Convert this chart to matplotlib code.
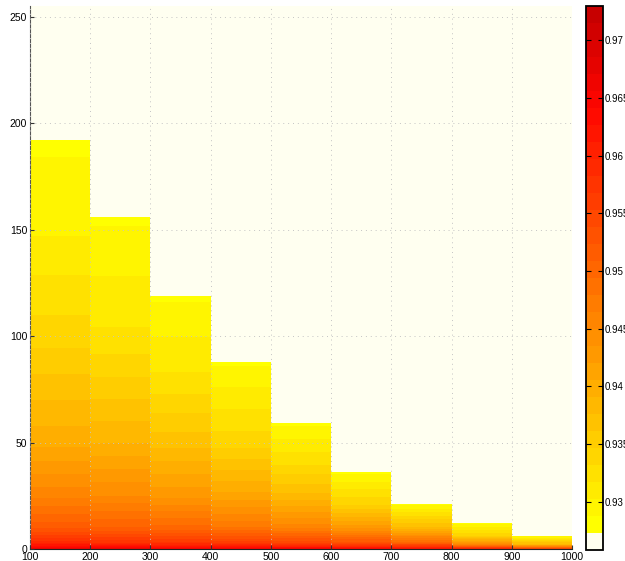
import matplotlib
matplotlib.use('Agg')
import matplotlib.pyplot as plt
import numpy as np
from matplotlib.colors import LinearSegmentedColormap, ListedColormap, BoundaryNorm
from matplotlib.cm import ScalarMappable

plt.rcParams['font.family'] = ['Liberation Sans', 'DejaVu Sans']

# column edges along x and the height of each filled column
col_left = [100, 200, 300, 400, 500, 600, 700, 800, 900]
col_width = 100
col_height = [192, 156, 119, 88, 59, 36, 21, 12, 6]

# value profiles, one per column (y position, value)
prof_y = [
    [0, 3, 10, 25, 50, 100, 150, 192],
    [0, 3, 10, 25, 50, 100, 156],
    [0, 3, 10, 25, 50, 80, 119],
    [0, 3, 10, 25, 50, 88],
    [0, 3, 10, 25, 40, 59],
    [0, 3, 10, 20, 36],
    [0, 3, 10, 21],
    [0, 2, 6, 12],
    [0, 2, 6],
]
prof_v = [
    [0.967, 0.959, 0.952, 0.946, 0.940, 0.934, 0.930, 0.9285],
    [0.967, 0.958, 0.951, 0.945, 0.939, 0.932, 0.9285],
    [0.966, 0.957, 0.950, 0.943, 0.937, 0.932, 0.9285],
    [0.966, 0.956, 0.948, 0.941, 0.934, 0.9285],
    [0.965, 0.955, 0.946, 0.938, 0.933, 0.9285],
    [0.964, 0.953, 0.943, 0.935, 0.9285],
    [0.963, 0.950, 0.938, 0.9285],
    [0.961, 0.946, 0.935, 0.9285],
    [0.957, 0.939, 0.9285],
]

cbar_ticks = [0.93, 0.935, 0.94, 0.945, 0.95, 0.955, 0.96, 0.965, 0.97]
vmin, vmax, nbins = 0.92583, 0.97295, 32

ivory = (1.0, 1.0, 0.94)

# yellow -> red -> dark red, with an ivory bottom bin
base = LinearSegmentedColormap.from_list(
    'yr', [(0.0, (1, 1, 0)), (0.82, (1, 0.02, 0)), (1.0, (0.78, 0, 0))])
colors = [ivory] + [base(i / (nbins - 2)) for i in range(nbins - 1)]
cmap = ListedColormap(colors)
levels = np.linspace(vmin, vmax, nbins + 1)
norm = BoundaryNorm(levels, cmap.N)

fig = plt.figure(figsize=(6.25, 5.61), dpi=100)
ax = fig.add_axes([30 / 625, 12 / 561, 542 / 625, 543 / 561])
ax.set_facecolor(ivory)

for x0, yy, vv in zip(col_left, prof_y, prof_v):
    X, Y = np.meshgrid([x0, x0 + col_width], yy)
    Z = np.column_stack([vv, vv])
    ax.contourf(X, Y, Z, levels=levels, cmap=cmap, norm=norm)

ax.set_xlim(100, 1000)
ax.set_ylim(0, 255)
ax.set_xticks(np.arange(100, 1001, 100))
ax.set_yticks(np.arange(0, 251, 50))
ax.tick_params(direction='in', length=3, labelsize=7.5, pad=2, color='#333333')
ax.grid(True, linestyle=(0, (1, 4)), color='#c4c4c4', linewidth=0.7)
ax.set_axisbelow(False)
ax.spines['top'].set_visible(False)
ax.spines['right'].set_visible(False)
ax.spines['left'].set_color('#555555')
ax.spines['bottom'].set_color('#222222')

cax = fig.add_axes([586 / 625, 11 / 561, 17 / 625, 544 / 561])
sm = ScalarMappable(norm=norm, cmap=cmap)
cb = fig.colorbar(sm, cax=cax, ticks=cbar_ticks)
cb.ax.set_ylim(vmin, vmax)
cb.ax.set_yticklabels([f'{t:g}' for t in cbar_ticks])
cb.ax.tick_params(direction='in', length=3.5, left=True, right=True,
                  labelsize=7, pad=1, width=0.8)
cb.minorticks_off()
cb.outline.set_linewidth(1.3)

fig.savefig('out.png', dpi=100)
